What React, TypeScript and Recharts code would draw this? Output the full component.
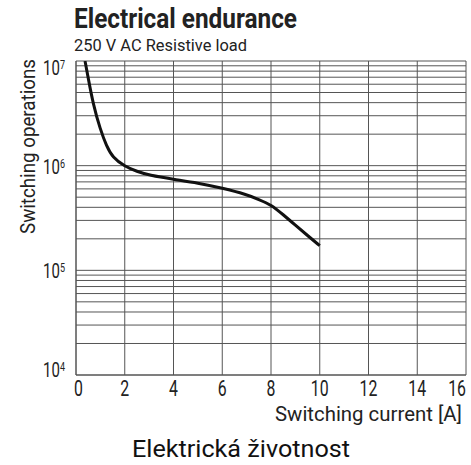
import { LineChart, Line, XAxis, YAxis, CartesianGrid } from "recharts";

// ===== DATA =====
const currentA = [
  0.37, 0.5, 0.7, 1.0, 1.25, 1.5, 2, 2.5, 3, 4, 5, 6, 7, 7.5, 8, 8.5, 9, 9.5, 10,
];
const operations = [
  1.0e7, 6.9e6, 3.9e6, 2.2e6, 1.55e6, 1.2e6, 9.85e5, 8.8e5, 8.1e5, 7.4e5,
  6.85e5, 6.1e5, 5.3e5, 4.75e5, 4.25e5, 3.4e5, 2.7e5, 2.15e5, 1.72e5,
];
const xTicks = [0, 2, 4, 6, 8, 10, 12, 14, 16];
const decades = [1e4, 1e5, 1e6];
const minorSteps = [1, 2, 3, 4, 5, 6, 7, 8, 9];

const data = currentA.map((x, i) => ({ x, y: operations[i] }));
const yTicks = [...decades.flatMap((d) => minorSteps.map((m) => m * d)), 1e7];

const FONT = "Roboto, 'Liberation Sans', Arial, sans-serif";
const INK = "#222";

// ===== TICKS =====
const YTick = (props: any) => {
  const { x, y, payload } = props;
  const v = payload.value;
  const e = Math.round(Math.log10(v));
  if (Math.abs(Math.pow(10, e) - v) > v * 1e-6) return <g />;
  const shift = e === 7 ? 14 : e === 4 ? 2 : 8;
  return (
    <text
      transform={`translate(${x - 3},${y + shift}) scale(0.75,1)`}
      textAnchor="end"
      fill={INK}
      fontFamily={FONT}
      fontSize={20}
    >
      <tspan>10</tspan>
      <tspan dy={-6} fontSize={12}>{e}</tspan>
    </text>
  );
};

const XTick = (props: any) => {
  const { x, y, payload } = props;
  const v = payload.value;
  const anchor = v === 0 ? "start" : v === 16 ? "end" : "middle";
  const dx = v === 0 ? -2 : 0;
  return (
    <text
      transform={`translate(${x + dx},${y + 13}) scale(0.72,1)`}
      textAnchor={anchor}
      fill={INK}
      fontFamily={FONT}
      fontSize={22}
    >
      {v}
    </text>
  );
};

// ===== COMPONENT =====
export default function App() {
  return (
    <div style={{ position: "absolute", left: 0, top: 0, width: 471, height: 465, background: "#fff" }}>
      <LineChart
        width={471}
        height={465}
        data={data}
        margin={{ top: 61, right: 5, left: 16, bottom: 60 }}
      >
        <CartesianGrid stroke="#555" strokeWidth={1} />
        <XAxis
          dataKey="x"
          type="number"
          domain={[0, 16]}
          ticks={xTicks}
          interval={0}
          tickLine={false}
          axisLine={{ stroke: "#555" }}
          tick={<XTick />}
          height={30}
        />
        <YAxis
          type="number"
          scale="log"
          domain={[1e4, 1e7]}
          ticks={yTicks}
          interval={0}
          allowDataOverflow
          tickLine={false}
          axisLine={{ stroke: "#555" }}
          tick={<YTick />}
          width={60}
        />
        <Line
          dataKey="y"
          type="basis"
          stroke="#111"
          strokeWidth={3}
          dot={false}
          isAnimationActive={false}
        />
      </LineChart>
      <svg
        width={471}
        height={465}
        style={{ position: "absolute", left: 0, top: 0, pointerEvents: "none" }}
      >
        <text
          x={74}
          y={28}
          fill={INK}
          fontFamily={FONT}
          fontWeight="bold"
          fontSize={28}
          textLength={223}
          lengthAdjust="spacingAndGlyphs"
        >
          Electrical endurance
        </text>
        <text
          x={74}
          y={51}
          fill={INK}
          fontFamily={FONT}
          fontSize={17}
          textLength={173}
          lengthAdjust="spacingAndGlyphs"
        >
          250 V AC Resistive load
        </text>
        <text
          transform="translate(35,234) rotate(-90)"
          fill={INK}
          fontFamily={FONT}
          fontSize={21}
          textLength={175}
          lengthAdjust="spacingAndGlyphs"
        >
          Switching operations
        </text>
        <text
          x={275}
          y={421}
          fill={INK}
          fontFamily={FONT}
          fontSize={21}
          textLength={187}
          lengthAdjust="spacingAndGlyphs"
        >
          Switching current [A]
        </text>
        <text
          x={132}
          y={457}
          fill="#111"
          fontFamily={FONT}
          fontSize={24}
          textLength={218}
          lengthAdjust="spacingAndGlyphs"
        >
          Elektrická životnost
        </text>
      </svg>
    </div>
  );
}
